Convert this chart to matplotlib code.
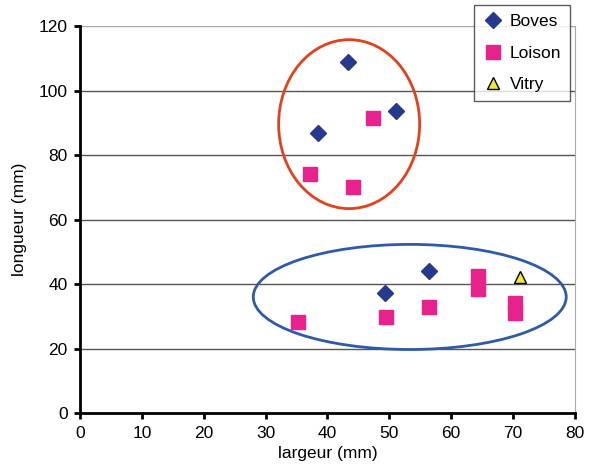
import matplotlib
matplotlib.use("Agg")
import matplotlib.pyplot as plt
from matplotlib.patches import Ellipse

plt.rcParams['font.family'] = ['Liberation Sans', 'DejaVu Sans']

# largeur (mm), longueur (mm)
boves_x = [43.3, 38.4, 51.0, 49.3, 56.4]
boves_y = [108.8, 86.8, 93.6, 37.2, 44.0]
loison_x = [47.3, 37.2, 44.1, 35.2, 49.4, 56.4, 64.3, 64.3, 70.4, 70.4]
loison_y = [91.5, 74.1, 70.0, 28.2, 29.8, 33.0, 42.5, 38.4, 34.1, 31.0]
vitry_x = [71.1]
vitry_y = [42.2]

fig = plt.figure(figsize=(5.89, 4.75), dpi=100)
ax = fig.add_axes([0.136, 0.1305, 0.84, 0.8145])

ax.set_xlim(0, 80)
ax.set_ylim(0, 120)
ax.set_xticks(range(0, 81, 10))
ax.set_yticks(range(0, 121, 20))
ax.yaxis.grid(True, color='#555555', linewidth=1)
ax.set_axisbelow(True)
ax.get_ygridlines()[-1].set_color('#aaaaaa')

ax.spines['top'].set_visible(False)
ax.spines['right'].set_color('#aaaaaa')
ax.spines['left'].set_linewidth(2)
ax.spines['bottom'].set_linewidth(2)
ax.tick_params(direction='out', length=4, width=2, labelsize=12.5, pad=5)

ax.plot(boves_x, boves_y, 'D', color='#26398c', markersize=8, linestyle='none', label='Boves')
ax.plot(loison_x, loison_y, 's', color='#e8228c', markersize=10.5, linestyle='none', label='Loison')
ax.plot(vitry_x, vitry_y, '^', color='#f0ea30', markeredgecolor='black', markersize=9,
        linestyle='none', label='Vitry')

ax.add_patch(Ellipse((43.5, 89.6), 22.8, 52.4, fill=False, edgecolor='#e5401d', linewidth=2))
ax.add_patch(Ellipse((53.3, 36.0), 50.6, 32.6, fill=False, edgecolor='#2f5aa8', linewidth=2))

ax.set_xlabel('largeur (mm)', fontsize=12.5, labelpad=4)
ax.set_ylabel('longueur (mm)', fontsize=12.5, labelpad=8)

leg = fig.legend(loc='upper right', bbox_to_anchor=(0.968, 0.989), borderaxespad=0,
                 fontsize=12.5, frameon=True, fancybox=False, edgecolor='#333333',
                 handletextpad=0.4, handlelength=1.2, borderpad=0.5, labelspacing=0.95)
leg.get_frame().set_linewidth(1)

fig.savefig('out.png', dpi=100)
